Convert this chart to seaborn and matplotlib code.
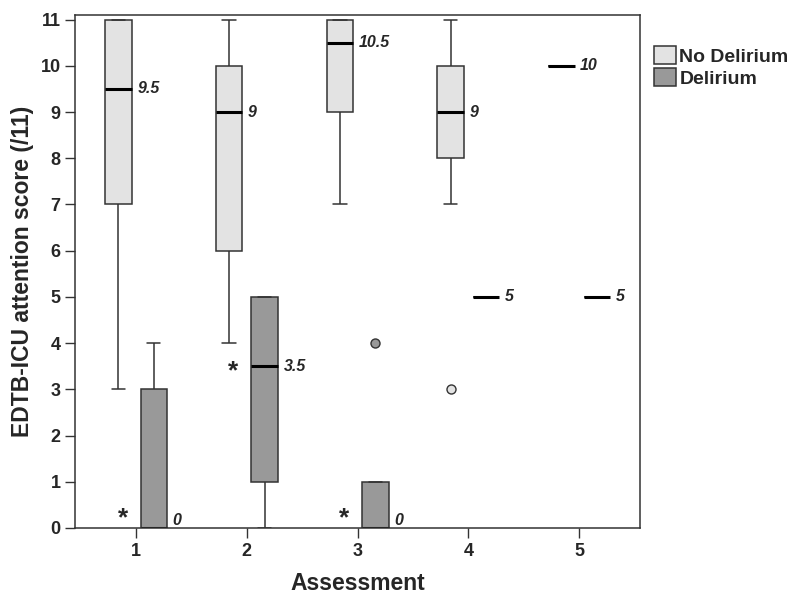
import numpy as np
import pandas as pd
import seaborn as sns
import matplotlib.pyplot as plt

# raw scores per assessment, read back from the box summaries in the figure
no_delirium = {
    1: [3, 7, 7, 9, 10, 11, 11, 11],
    2: [4, 5, 6, 8, 9, 9, 10, 10, 11],
    3: [7, 9, 9, 10, 11, 11, 11, 11],
    4: [3, 7, 8, 8, 9, 10, 10, 10, 11],
    5: [10],
}
delirium = {
    1: [0, 0, 0, 3, 4],
    2: [0, 1, 1, 3, 4, 5, 5, 5],
    3: [0, 0, 0, 1, 4],
    4: [5],
    5: [5],
}
groups = ["No Delirium", "Delirium"]
group_colors = ["#e3e3e3", "#999999"]
# significance stars (assessment, y)
sig_marks = [(1, 0.2), (2, 3.4), (3, 0.2)]

rows = []
for grp, d in zip(groups, [no_delirium, delirium]):
    for k, vals in d.items():
        for v in vals:
            rows.append({"Assessment": k, "Score": v, "Group": grp})
df = pd.DataFrame(rows)

sns.set_style("ticks")
plt.rcParams['font.family'] = ['Liberation Sans', 'DejaVu Sans']

fig = plt.figure(figsize=(8, 6.01), dpi=100)
ax = fig.add_axes([0.094, 0.1215, 0.706, 0.8535])

edge = "#333333"
sns.boxplot(data=df, x="Assessment", y="Score", hue="Group", hue_order=groups,
            palette=group_colors, width=0.64, gap=0.25, linecolor=edge, linewidth=1.1,
            saturation=1, whis=1.5,
            medianprops={"color": "black", "linewidth": 2.2},
            flierprops={"marker": "o", "markersize": 6.5, "markeredgecolor": edge,
                        "markeredgewidth": 1},
            ax=ax)

# outlier circles take the fill of their group
for cont, col in zip(ax.containers, group_colors):
    for fl in cont.fliers:
        fl.set_markerfacecolor(col)

# median labels
offsets = [-0.16, 0.16]
for gi, (grp, d) in enumerate(zip(groups, [no_delirium, delirium])):
    for k, vals in d.items():
        med = np.median(vals)
        txt = f"{med:g}"
        va = "bottom" if med < 0.3 else "center"
        ax.text(k - 1 + offsets[gi] + 0.17, med, txt, fontsize=11.5,
                fontweight="bold", fontstyle="italic", ha="left", va=va)

for k, y in sig_marks:
    ax.text(k - 1 - 0.12, y, "*", fontsize=19, fontweight="bold",
            ha="center", va="center")

ax.set_ylim(0, 11.1)
ax.set_xlim(-0.55, 4.55)
ax.set_yticks(range(0, 12))
ax.set_xlabel("Assessment", fontsize=16.5, fontweight="bold", labelpad=9)
ax.set_ylabel("EDTB-ICU attention score (/11)", fontsize=16.5, fontweight="bold",
              labelpad=5)
ax.tick_params(axis="both", labelsize=13, length=7, width=1, color=edge)
for lab in ax.get_xticklabels() + ax.get_yticklabels():
    lab.set_fontweight("bold")
for sp in ax.spines.values():
    sp.set_visible(True)
    sp.set_color(edge)
    sp.set_linewidth(1.1)

leg = ax.legend(loc="upper left", bbox_to_anchor=(1.025, 0.94), frameon=False,
                fontsize=14, handlelength=1.1, handleheight=1.1,
                handletextpad=0.2, labelspacing=0.1, borderpad=0, borderaxespad=0)
for t in leg.get_texts():
    t.set_fontweight("bold")

fig.savefig("out.png", dpi=100)
